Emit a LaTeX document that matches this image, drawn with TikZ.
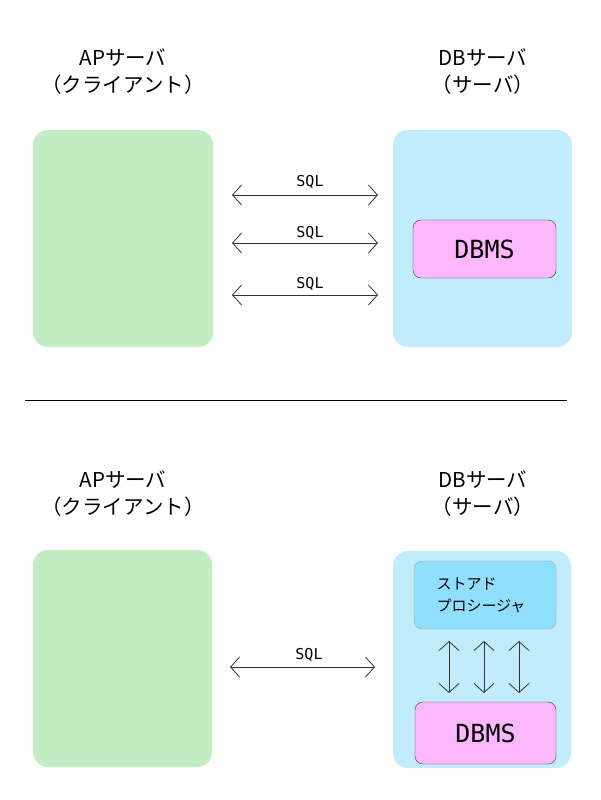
\documentclass[tikz,border=0pt]{standalone}
\usepackage{fontspec}
\setmainfont{Noto Sans CJK JP}
\newfontfamily\monofnt{DejaVu Sans Mono}
\usepackage{tikz}
\usetikzlibrary{arrows.meta,positioning}

\definecolor{apgreen}{HTML}{C2ECC2}
\definecolor{dbblue}{HTML}{C0ECFC}
\definecolor{dbmspink}{HTML}{FDB8FD}
\definecolor{spblue}{HTML}{8FDFFC}
\definecolor{linegray}{HTML}{333333}

\tikzset{
  srvlabel/.style={font=\fontsize{20.5}{27}\selectfont, align=center},
  apbox/.style={fill=apgreen, rounded corners=15pt},
  dbbox/.style={fill=dbblue, rounded corners=15pt},
  dbmsbox/.style={fill=dbmspink, draw=linegray, rounded corners=8pt, font=\monofnt\fontsize{25}{28}\selectfont},
  spbox/.style={fill=spblue, draw=gray!70, rounded corners=8pt},
  biarrow/.style={draw=linegray, line width=0.8pt, {Straight Barb[length=9pt,width=20pt]}-{Straight Barb[length=9pt,width=20pt]}},
  sqllabel/.style={font=\monofnt\fontsize{15}{17}\selectfont, inner sep=1pt}
}

\begin{document}
\begin{tikzpicture}[x=1pt,y=-1pt]
\useasboundingbox (0,0) rectangle (600,800);
% top: many SQL round trips
\node[srvlabel] (ap1) at (123,72) {APサーバ\\（クライアント）};
\node[srvlabel] (db1) at (483,72) {DBサーバ\\（サーバ）};
\fill[apbox] (33,130) rectangle (213,347);
\fill[dbbox] (393,130) rectangle (572,347);
\node[dbmsbox, minimum width=143pt, minimum height=58pt] (dbms1) at (484.5,249) {DBMS};
\coordinate (a1l) at (232,195); \coordinate (a1r) at (378,195);
\coordinate (a2l) at (232,243); \coordinate (a2r) at (378,243);
\coordinate (a3l) at (232,295); \coordinate (a3r) at (378,295);
\draw[biarrow] (a1l) -- (a1r);
\draw[biarrow] (a2l) -- (a2r);
\draw[biarrow] (a3l) -- (a3r);
\node[sqllabel] (q1) at (310,182) {SQL};
\node[sqllabel] (q2) at (310,233) {SQL};
\node[sqllabel] (q3) at (310,284) {SQL};
% divider
\coordinate (divl) at (25,400); \coordinate (divr) at (567,400);
\draw[black, line width=0.6pt] (divl) -- (divr);
% bottom: one SQL call to a stored procedure
\node[srvlabel] (ap2) at (123,494) {APサーバ\\（クライアント）};
\node[srvlabel] (db2) at (483,494) {DBサーバ\\（サーバ）};
\fill[apbox] (33,550) rectangle (212,767);
\fill[dbbox] (393,551) rectangle (571,768);
\node[spbox, minimum width=142pt, minimum height=68pt] (sp) at (485,595) {};
\node[font=\fontsize{15}{22}\selectfont, align=left, anchor=west] (sptext) at (433,595) {ストアド\\プロシージャ};
\node[dbmsbox, minimum width=141pt, minimum height=62pt] (dbms2) at (485.5,733) {DBMS};
\foreach \x/\n in {449/1,484/2,519/3}{
  \coordinate (v\n t) at (\x,641);
  \coordinate (v\n b) at (\x,693);
  \draw[biarrow] (v\n t) -- (v\n b);
}
\coordinate (a4l) at (230,667); \coordinate (a4r) at (375,667);
\draw[biarrow] (a4l) -- (a4r);
\node[sqllabel] (q4) at (309,655) {SQL};
\end{tikzpicture}
\end{document}
